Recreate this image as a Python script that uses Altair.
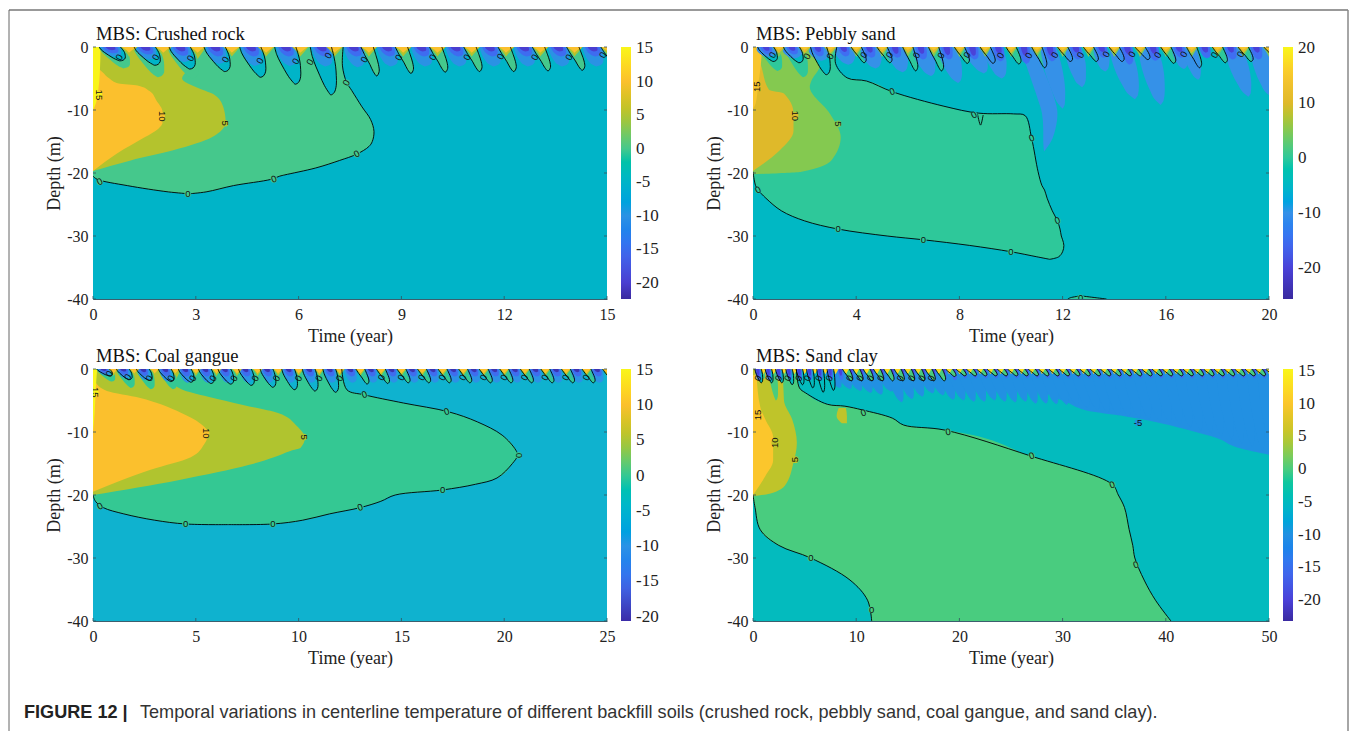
import altair as alt
import pandas as pd

alt.data_transformers.disable_max_rows()

SERIF = "Liberation Serif"
SANS = "Liberation Sans"

# ---- shape profiles of the seasonal tongues (fractions of depth, offsets in years)
COLD_F = [0, .2, .4, .6, .8, .95, 1]
COLD_L = [-.32, -.26, -.16, -.04, .09, .22, .28]
COLD_R = [.30, .37, .42, .44, .44, .38, .28]
BLUE_F = [0, .35, .7, .9, 1]
BLUE_L = [-.3, -.24, -.12, 0, .12]
BLUE_R = [.3, .34, .34, .28, .12]
WEDGE_F = [0, .3, .6, .85, 1]
WEDGE_L = [-.18, -.06, .08, .18, .28]
WEDGE_R = [.18, .26, .33, .35, .28]
CAP_F = [0, .5, 1]
CAP_L = [-.24, -.1, 0]
CAP_R = [.24, .12, 0]
PLUME_F = [0, .25, .5, .75, .92, 1]
PLUME_H = [.28, .32, .3, .22, .12, 0]

# ---- Panel 1: crushed rock  (depth, left, right)
P1_GREEN = [(0, 0, 7.3), (-3, 0, 7.28), (-5.6, 0, 7.4), (-6.9, 0, 7.55), (-9.5, 0, 7.85), (-11.5, 0, 8.1),
            (-13.4, 0, 8.2), (-15, 0, 8.15), (-15.8, 0, 8.05), (-17, 0, 7.7), (-18, 0, 7.2), (-19.2, 0, 6.5),
            (-20.3, 0, 5.6), (-20.5, 0, 5.45), (-21, .12, 5.2), (-22, 1.0, 4.1), (-23, 2.2, 3.3), (-23.3, 2.8, 2.8)]
P1_OLIVE = [(0, 0, 3.3), (-3, 0, 2.9), (-5, 0, 2.6), (-6.6, 0, 3.1), (-7.6, 0, 3.55), (-9.5, 0, 3.8),
            (-11.9, 0, 3.87), (-14.3, 0, 3.48), (-16.4, 0, 2.34), (-18, 0, 1.1), (-19.7, 0, 0)]
P1_ORANGE = [(-3, 0, .08), (-4, 0, .28), (-5, 0, .48), (-5.8, 0, .75), (-6.1, 0, 1.3), (-7, 0, 1.65),
             (-8.5, 0, 1.85), (-10.3, 0, 2.03), (-12, 0, 2.03), (-13, 0, 1.9), (-14.3, 0, 1.52), (-16.9, 0, .7),
             (-19.7, 0, 0)]
P1_YELLOW = [(0, 0, .22), (-4, 0, .2), (-7, 0, .15), (-9, 0, .08), (-10, 0, 0)]
P1_HALO_C = [.55, 1.55, 2.55]
P1_HALO_D = [3.4, 4.8, 5.0]
P1_LOOP_C = [.5, 1.52, 2.54, 3.56, 4.6, 5.62, 6.66]
P1_LOOP_D = [2.2, 2.9, 3.5, 3.9, 4.8, 5.9, 7.6]
P1_WEDGE_C = [8, 9, 10, 11, 12, 13, 14, 15]
P1_WEDGE_D = [4.6, 4.2, 4, 3.9, 3.9, 3.8, 3.7, 3.4]
P1_BLUE_C = [.5, 1.52, 2.54, 3.56, 4.6, 5.62, 6.66, 7.6, 8.57, 9.57, 10.57, 11.57, 12.57, 13.57, 14.57]
P1_B10 = [1.5, 2, 2.4, 2.7, 3, 3, 3.1, 3.2, 3.1, 3.1, 3.1, 3.1, 3.1, 3.1, 3.1]
P1_B15 = [1, 1.2, 1.4, 1.5, 1.5, 1.5, 1.5, 1.5, 1.5, 1.5, 1.5, 1.5, 1.5, 1.5, 1.5]
P1_B20 = [.5, .6, .7, .7, .7, .7, .7, .7, .7, .7, .7, .7, .7, .7, .7]
P1_CAP_C = [1.05, 2.05, 3.05, 4.05, 5.05, 6.05, 7.05, 8.05, 9.05, 10.05, 11.05, 12.05, 13.05, 14.05, 15.05]
P1_LABELS = [(.17, -7.6, "15", 90, 15), (2, -11, "10", 90, 10), (3.85, -12.1, "5", 90, 5),
             (.2, -21.4, "0", 330, 0), (2.77, -23.3, "0", 0, 0), (5.28, -21, "0", 340, 0),
             (7.7, -17, "0", 330, 0), (7.4, -5.7, "0", 300, 0)]
P1_TLAB = [(.77, -1.65), (1.84, -1.65), (2.85, -1.8), (3.87, -2), (4.88, -2.2), (5.92, -2.3), (6.34, -2.4),
           (6.87, -1.4), (7.92, -2), (8.93, -1.7), (9.92, -1.65), (10.92, -1.65), (11.9, -1.55), (12.9, -1.65),
           (13.9, -1.65), (14.88, -1.3)]
P1_DOM = [-22.4, -20, -15, -10, -5, 0, 5, 10, 15.15]
P1_RNG = ["#3A2A9F", "#4A3ED0", "#3E6CF0", "#2A92E4", "#00B4C8", "#45C88C", "#B4C32D", "#FBC02D", "#F9F61A"]

# ---- Panel 2: pebbly sand
P2_GREEN = [(0, 0, 3.25), (-2.6, 0, 3.2), (-4.9, 0, 3.65), (-5.4, 0, 4.4), (-7.1, 0, 5.4), (-9.4, 0, 7.4),
            (-10.5, 0, 8.75), (-10.62, 0, 10.1), (-10.9, 0, 10.55), (-14.5, 0, 10.8), (-19.8, 0, 11.05),
            (-22, .1, 11.2), (-22.7, .2, 11.3), (-24, .5, 11.4), (-26, 1.1, 11.6), (-27.6, 2.0, 11.8),
            (-28.9, 3.3, 11.9), (-30, 5.2, 11.95), (-30.6, 6.6, 12), (-31.5, 8.4, 12.05), (-32.5, 10, 12),
            (-33.3, 11, 11.85), (-33.7, 11.5, 11.5)]
P2_SMALL = [(-39.5, 12.7, 12.7), (-39.8, 12.3, 13.3), (-40, 12.2, 13.7)]
P2_OLIVE = [(0, 0, 2.7), (-3, 0, 2.6), (-5.5, 0, 2.25), (-6.3, 0, 2.2), (-10.5, 0, 2.97), (-14.3, 0, 3.4),
            (-17.9, 0, 3.06), (-19.8, 0, 1.88), (-20.2, 0, 0)]
P2_ORANGE = [(-1, 0, .1), (-2.6, 0, .28), (-6.8, 0, .62), (-7.4, 0, 1.2), (-10.5, 0, 1.57), (-13.3, 0, 1.57),
             (-16.4, 0, 1.04), (-19.7, 0, 0)]
P2_YELLOW = [(0, 0, .35), (-3, 0, .3), (-6, 0, .2), (-9, 0, .1), (-9.8, 0, 0)]
P2_HALO_C = [.6, 1.6]
P2_HALO_D = [3.8, 4.8]
P2_LOOP_C = [.5, 1.5, 2.55]
P2_LOOP_D = [2.3, 2.5, 4.4]
P2_WEDGE_C = [4, 5, 6, 7, 8, 9, 10, 11, 12, 13, 14, 15, 16, 17, 18, 19, 20]
P2_WEDGE_D = [2.5, 2.5, 3.8, 3.8, 2.6, 2.6, 2.7, 3.3, 2.3, 2.3, 2.3, 2.0, 2.6, 3.3, 2.5, 2.3, 2]
P2_PLUME_C = [.5, 1.5, 2.5, 3.5, 4.5, 5.5, 6.5, 7.5, 8.5, 9.3, 11.44, 12.4, 13.45, 14.2, 15.3, 16.5, 16.9, 18.6, 19.6]
P2_PLUME_T = [.6, 1.6, 2.65, 3.7, 4.75, 5.8, 6.9, 7.95, 8.95, 9.64, 12, 12.75, 13.65, 14.8, 15.8, 16.7, 17.25, 19.2, 20.05]
P2_PLUME_D = [1.6, 1.8, 2.2, 2.8, 3.4, 4, 4.6, 5.7, 4.2, 5, 9.8, 6.4, 3.9, 8.3, 9.2, 3.5, 5.2, 7.9, 7.8]
P2_PLUME_W = [1.2, 1.2, 1.2, 1.2, 1.2, 1.2, 1.2, 1.2, 1.2, 1.2, 1.1, 1.1, .9, 1.4, 1.3, .9, .9, 1.2, 1.2]
P2_BIG = [(0, 10.3, 10.9), (-3, 10.6, 11.2), (-6, 10.85, 11.5), (-8.4, 11.05, 11.7), (-10.5, 11.2, 11.8),
          (-13, 11.25, 11.72), (-15, 11.25, 11.55), (-16.6, 11.28, 11.28)]
P2_BLUE_C = [.5, 1.5, 2.5, 3.5, 4.5, 5.5, 6.5, 7.5, 8.5, 9.5, 10.5, 11.5, 12.5, 13.5, 14.5, 15.5, 16.5, 17.5, 18.5, 19.5]
P2_B15 = [1.2, 1.2, 1.5, 1.5, 1.7, 1.7, 2, 2, 2, 2.3, 2.7, 2.3, 2, 1.7, 2.8, 2.2, 1.7, 1.8, 2, 2]
P2_B20 = [.6, .6, .8, .8, .9, 1.1, 1.1, 1.3, 1.4, 1.1, 1.4, 1.4, .9, .8, 1.2, 1.1, .8, .9, .9, .9]
P2_CAP_C = [1, 2, 3, 4, 5, 6, 7, 8, 9, 10, 11, 12, 13, 14, 15, 16, 17, 18, 19, 20]
P2_LABELS = [(.15, -6.3, "15", 270, 15), (1.63, -10.9, "10", 90, 10), (3.3, -12.2, "5", 90, 5),
             (5.4, -7.1, "0", 340, 0), (8.57, -10.8, "0", 330, 0), (10.8, -14.5, "0", 340, 0),
             (11.8, -27.6, "0", 340, 0), (10, -32.5, "0", 0, 0), (6.6, -30.6, "0", 0, 0), (3.3, -28.9, "0", 0, 0),
             (.2, -22.7, "0", 330, 0), (12.7, -39.8, "0", 0, 0)]
P2_TLAB = [(.76, -1.3), (2.1, -1.5), (3.0, -1.5), (4.3, -1.3), (5.3, -1.3), (6.35, -1.35), (7.3, -1.4), (8.3, -1.3),
           (9.6, -1.4), (10.7, -1.4), (11.7, -1.3), (12.7, -1.3), (13.7, -1.2), (14.7, -1.2), (15.7, -1.3),
           (16.7, -1.2), (17.9, -1.3), (18.9, -1.2)]
P2_DOM = [-25.7, -20, -15, -10, -5, 0, 5, 10, 15, 20.2]
P2_RNG = ["#3A2A9F", "#4A42D8", "#3F6EF2", "#3591E8", "#00B8C4", "#2EC89A", "#84C950", "#DFB92A", "#F8C52E", "#F9F61A"]

# ---- Panel 3: coal gangue
P3_GREEN = [(0, 0, 12.1), (-3.3, 0, 12.35), (-4.1, 0, 13.2), (-5.4, 0, 15.1), (-6.8, 0, 17.3), (-8.4, 0, 18.7),
            (-10.5, 0, 19.9), (-12.9, 0, 20.57), (-13.7, 0, 20.65), (-15, 0, 20.4), (-17.3, 0, 19.65),
            (-18.3, 0, 18.6), (-19.2, 0, 17), (-20, 0, 14.7), (-21, .12, 14), (-22, .5, 13), (-23, 1.5, 11.5),
            (-24, 3, 10.2), (-24.6, 4.5, 8.75), (-24.7, 6.6, 6.6)]
P3_OLIVE = [(0, 0, 4.3), (-2.5, 0, 4), (-3.2, 0, 4.3), (-4.4, 0, 5.6), (-5.7, 0, 7.3), (-7, 0, 9), (-9, 0, 9.9),
            (-11, 0, 10.3), (-12.5, 0, 10.1), (-13, 0, 9.6), (-14, 0, 8.8), (-15.2, 0, 7.6), (-17.6, 0, 4.2),
            (-20, 0, 0)]
P3_ORANGE = [(-2, 0, .1), (-3.5, 0, .68), (-4.6, 0, 2.3), (-5.6, 0, 3.3), (-7, 0, 4.3), (-8.6, 0, 5.2),
             (-10.2, 0, 5.6), (-12, 0, 5.4), (-14, 0, 4.76), (-16, 0, 2.8), (-19.5, 0, 0)]
P3_YELLOW = [(0, 0, .2), (-4, 0, .12), (-7, 0, .08), (-10, 0, 0)]
P3_HALO_C = [.55, 1.5, 2.47, 3.55, 4.5, 5.5]
P3_HALO_D = [2, 3, 3.2, 3.2, 3.2, 3]
P3_LOOP_C = [.5, 1.46, 2.43, 3.5, 4.47, 5.45, 6.4, 7.4, 8.45, 9.5, 10.5, 11.5]
P3_LOOP_D = [1.1, 1.7, 1.8, 2, 2.1, 2.3, 2.4, 2.6, 2.9, 3.3, 3.5, 3.7]
P3_WEDGE_C = [13, 14, 15, 16, 17, 18, 19, 20, 21, 22, 23, 24, 25]
P3_WEDGE_D = [2.4, 2.3, 2.2, 2.2, 2.2, 2.2, 2.2, 2.2, 2.2, 2.2, 2.2, 2.2, 2.2]
P3_BLUE_C = [.5, 1.46, 2.43, 3.5, 4.47, 5.45, 6.4, 7.4, 8.45, 9.5, 10.5, 11.5, 12.5, 13.5, 14.5, 15.5, 16.5, 17.5,
             18.5, 19.5, 20.5, 21.5, 22.5, 23.5, 24.5]
P3_B10 = [1, 1.5, 1.8, 2, 2.2, 2.2, 2.2, 2.2, 2.2, 2.2, 2.2, 2.2, 2.2, 2.2, 2.2, 2.2, 2.2, 2.2, 2.2, 2.2, 2.2, 2.2, 2.2, 2.2, 2.2]
P3_B15 = [.7, 1, 1.1, 1.2, 1.2, 1.2, 1.2, 1.2, 1.2, 1.2, 1.2, 1.2, 1.2, 1.2, 1.2, 1.2, 1.2, 1.2, 1.2, 1.2, 1.2, 1.2, 1.2, 1.2, 1.2]
P3_B20 = [.3, .4, .5, .5, .5, .5, .5, .5, .5, .5, .5, .5, .5, .5, .5, .5, .5, .5, .5, .5, .5, .5, .5, .5, .5]
P3_CAP_C = [1, 2, 3, 4, 5, 6, 7, 8, 9, 10, 11, 12, 13, 14, 15, 16, 17, 18, 19, 20, 21, 22, 23, 24, 25]
P3_LABELS = [(.1, -3.7, "15", 90, 15), (5.5, -10.2, "10", 90, 10), (10.25, -10.8, "5", 90, 5),
             (13.2, -4.1, "0", 340, 0), (17.2, -6.8, "0", 340, 0), (20.7, -13.7, "0", 90, 0),
             (17, -19.2, "0", 0, 0), (13, -22, "0", 340, 0), (8.75, -24.6, "0", 0, 0), (4.5, -24.6, "0", 0, 0),
             (.34, -21.8, "0", 330, 0)]
P3_TLAB = [(.8, -.8), (1.7, -1.3), (2.75, -1.5), (3.8, -1.5), (4.86, -1.5), (5.85, -1.5), (6.87, -1.5), (7.9, -1.5),
           (8.93, -1.5), (10, -1.5), (11, -1.5), (12, -1.5), (14.04, -1.4), (15, -1.4), (16, -1.4), (17, -1.4),
           (18, -1.4), (19, -1.4), (20, -1.4), (21, -1.4), (22, -1.4), (23, -1.4), (24, -1.4)]
P3_DOM = [-20.6, -15, -10, -5, 0, 5, 10, 15.1]
P3_RNG = ["#3B2CA8", "#3F6CEE", "#2B92E6", "#0FB2CF", "#34C893", "#B0C42F", "#FBC02D", "#F9F61A"]

# ---- Panel 4: sand clay
P4_GREEN = [(0, 0, 4.2), (-3, 0, 4.5), (-3.8, 0, 5.1), (-5.6, 0, 7.2), (-5.9, 0, 8.9), (-6.5, 0, 10.6),
            (-7.8, 0, 13.5), (-8.9, 0, 14.6), (-9.7, 0, 18.6), (-13.8, 0, 26.9), (-18.3, 0, 34.8), (-20, 0, 35.4),
            (-22, .2, 36), (-25.5, .7, 36.45), (-28, 2.5, 36.8), (-30, 5.6, 37), (-33.5, 9.4, 37.9),
            (-36.7, 11.1, 39), (-40, 11.5, 40.5)]
P4_OLIVE = [(0, 0, 2.9), (-5, 0, 3), (-8, 0, 3.8), (-11.7, 0, 4.25), (-15, 0, 3.9), (-18.5, 0, 3.1), (-19.8, 0, 1.6),
            (-20.2, 0, 0)]
P4_ORANGE = [(-1, 0, .35), (-6, 0, .7), (-8, 0, 1.2), (-10.8, 0, 1.95), (-14.5, 0, 1.95), (-17, 0, 1.2), (-20, 0, 0)]
P4_BLOB = [(-6.2, 8.3, 9), (-7.5, 8.1, 9.1), (-8.6, 8.6, 9.1)]
P4_BASE = [(0, 9, 50), (-1.5, 12, 50), (-2.5, 25, 50), (-5, 30, 50), (-6.8, 33, 50), (-7.5, 36, 50), (-8.4, 39, 50),
           (-9.6, 42, 50), (-11, 45, 50), (-12.5, 47, 50), (-13.6, 50, 50)]
P4_HALO_C = [.6, 1.85]
P4_HALO_D = [1.6, 5]
P4_LOOP_C = [.5, 1.5, 2.5, 3.5, 4.5, 5.5, 6.5, 7.5]
P4_LOOP_D = [2.2, 2.2, 2.2, 2.5, 2.5, 3, 3.7, 3.4]
P4_WEDGE_C = list(range(9, 51))
P4_WEDGE_D = [1.9] * 10 + [1.2, 1.1, 1.1, 1.1, 1.1, 1.1, 1.1, 1.1, 1.1, 1.1, 1.1, 1.1, 1.1, 1.1, 1.1, 1.1, 1.1, 1.1, 1.1,
                           1.1, 1.1, 1.1, 1.1, 1.1, 1.1, 1.1, 1.1, 1.1, 1.1, 1.1, 1.1, 1.1]
P4_PLUME_C = [n + .4 for n in range(7, 50)]
P4_PLUME_D = [3, 3.2, 3.5, 3.8, 4.1, 3.6, 5.3, 4.8, 4.4, 3.9, 4.2, 4.9, 5.0, 5.2, 5.2, 5.0, 5.2, 5.3, 5.2, 5.5, 5.5,
              5.6, 5.7, 5.8, 6.2, 6.6, 7, 7.4, 7.6, 7.8, 8, 8.3, 8.6, 8.9, 9.3, 9.8, 10.2, 10.7, 11.2, 11.9, 12.4, 13, 13.5]
P4_BLUE_C = [n + .45 for n in range(50)]
P4_B15 = [1.8] * 20 + [1.5] * 30
P4_B20 = [1.1] * 20 + [.7] * 30
P4_CAP_C = [n + 1 for n in range(50)]
P4_LABELS = [(.5, -7.3, "15", 270, 10), (2.1, -11.7, "10", 270, 5), (4.1, -14.4, "5", 270, 5),
             (10.7, -7, "0", 340, 0), (18.9, -10, "0", 350, 0), (27, -13.8, "0", 340, 0), (34.8, -18.4, "0", 340, 0),
             (37.1, -31.1, "0", 340, 0), (5.6, -30, "0", 0, 0), (11.5, -38.2, "0", 0, 0), (37.3, -8.5, "-5", 0, -10)]
P4_TLAB = [(.5, -1.5), (1.55, -1.5), (2.5, -1.5), (3.4, -1.5), (4.45, -1.5), (5.3, -1.5), (6.4, -1.5), (7.4, -1.5),
           (9.4, -1.5), (10.4, -1.5), (11.4, -1.5), (12.4, -1.5), (14.3, -1.5), (15.4, -1.5), (16.4, -1.5), (17.3, -1.5)]
P4_DOM = [-23.2, -20, -15, -10, -5, 0, 5, 10, 15.3]
P4_RNG = ["#3A2AA0", "#4A40D8", "#3E6FF0", "#2290E2", "#03BBBE", "#49CC7F", "#BFC42A", "#FBC62C", "#F9F61A"]

DEPTH_TICKS = [0, -10, -20, -30, -40]
CAPTION_BOLD = "FIGURE 12 |"
CAPTION_TEXT = ("Temporal variations in centerline temperature of different backfill soils "
                "(crushed rock, pebbly sand, coal gangue, and sand clay).")


class Builder:
    def __init__(self):
        self.areas, self.lines, self.n = [], [], 0

    def _id(self):
        self.n += 1
        return self.n

    def blob(self, pts, t, outline=False):
        i = self._id()
        for d, l, r in pts:
            self.areas.append(dict(id=i, t=t, y=d, x0=l, x1=r))
        if outline:
            a = [(r, d) for d, l, r in pts]
            b = [(l, d) for d, l, r in pts if l > 0]
            first = next((k for k, p in enumerate(pts) if p[1] > 0), None)
            if first is not None and first > 0:
                b = [(0, pts[first - 1][0])] + b
            self.line(a)
            if b:
                self.line(b)

    def line(self, pts):
        i = self._id()
        for k, (x, y) in enumerate(pts):
            self.lines.append(dict(id=i, k=k, x=x, y=y))

    def shape(self, c, depth, t, F, L, R, hw=1.0, outline=False):
        i = self._id()
        for f, l, r in zip(F, L, R):
            self.areas.append(dict(id=i, t=t, y=-f * depth, x0=c + hw * l, x1=c + hw * r))
        if outline:
            pts = [(c + hw * l, -f * depth) for f, l in zip(F, L)]
            pts += [(c + hw * r, -f * depth) for f, r in list(zip(F, R))[-2::-1]]
            self.line(pts)

    def cold(self, cs, ds, t, hw=1.0, outline=False):
        for c, d in zip(cs, ds):
            self.shape(c, d, t, COLD_F, COLD_L, COLD_R, hw, outline)

    def blue(self, cs, ds, t, hw=1.0):
        for c, d in zip(cs, ds):
            self.shape(c, d, t, BLUE_F, BLUE_L, BLUE_R, hw)

    def wedge(self, cs, ds, t, hw=1.0):
        for c, d in zip(cs, ds):
            self.shape(c, d, t, WEDGE_F, WEDGE_L, WEDGE_R, hw, True)

    def cap(self, cs, d, t, hw=1.0):
        for c in cs:
            self.shape(c, d, t, CAP_F, CAP_L, CAP_R, hw)

    def plume(self, cs, tips, ds, ws, t):
        for c, tip, d, w in zip(cs, tips, ds, ws):
            i = self._id()
            for f, h in zip(PLUME_F, PLUME_H):
                m = c + (tip - c) * f
                self.areas.append(dict(id=i, t=t, y=-f * d, x0=m - w * h, x1=m + w * h))


one = pd.DataFrame({"a": [0]})
# frame and caption are placed relative to the first panel's plot area
FX0, FX1, FY0, FY1 = -84, 1255, -37, 684


def frame_layers():
    rule = lambda color, w, op=1: alt.Chart(one).mark_rule(color=color, strokeWidth=w, opacity=op)
    return [
        rule("#fff", 1, 0).encode(x=alt.value(FX0), y=alt.value(-39), y2=alt.value(-38)),
        rule("#777", 1.5).encode(x=alt.value(FX0), x2=alt.value(FX1), y=alt.value(FY0)),
        rule("#666", 1).encode(x=alt.value(FX0), y=alt.value(FY0), y2=alt.value(FY1)),
        rule("#888", 1.5).encode(x=alt.value(FX1), y=alt.value(FY0), y2=alt.value(FY1)),
        alt.Chart(one).mark_text(font=SANS, fontSize=18.1, fontWeight="bold", color="#222", align="left",
                                 baseline="middle").encode(x=alt.value(-69), y=alt.value(666), text=alt.value(CAPTION_BOLD)),
        alt.Chart(one).mark_text(font=SANS, fontSize=18.1, color="#333", align="left",
                                 baseline="middle").encode(x=alt.value(47), y=alt.value(666), text=alt.value(CAPTION_TEXT)),
    ]


def panel(title, b, xmax, xticks, width, dom, rng, legend_values, labels, tlabels, extra=()):
    height = 252
    xs = alt.Scale(domain=[0, xmax], nice=False, zero=False)
    ys = alt.Scale(domain=[-40, 0], nice=False, zero=False)
    color = alt.Color("t:Q", scale=alt.Scale(domain=dom, range=rng), legend=alt.Legend(
        orient="none", legendX=width + 14, legendY=0, title=None, direction="vertical",
        gradientLength=height, gradientThickness=10, values=legend_values, labelFont=SERIF,
        labelFontSize=17, labelColor="#222", labelOffset=5, labelExpr="'' + datum.value", gradientStrokeWidth=0))
    axis_common = dict(labelFont=SERIF, labelFontSize=16, labelColor="#222", titleFont=SERIF, titleFontSize=18,
                       titleFontWeight="normal", titleColor="#222", domainColor="#3c5f6e", domainWidth=1,
                       ticks=False, grid=False, labelExpr="'' + datum.value", labelOverlap=False, labelFlush=False)
    xaxis = alt.Axis(title="Time (year)", values=xticks, labelPadding=7, titlePadding=5, **axis_common)
    yaxis = alt.Axis(title="Depth (m)", values=DEPTH_TICKS, labelPadding=5, titlePadding=3, **axis_common)
    X = lambda f: alt.X(f, scale=xs, axis=xaxis)
    Y = lambda f: alt.Y(f, scale=ys, axis=yaxis)

    areas = alt.Chart(pd.DataFrame(b.areas)).mark_area(orient="horizontal", interpolate="monotone", clip=True).encode(
        x=X("x0:Q"), x2="x1:Q", y=Y("y:Q"), color=color, detail="id:N")
    lines = alt.Chart(pd.DataFrame(b.lines)).mark_line(color="#000", strokeWidth=.9, interpolate="catmull-rom",
                                                       clip=True).encode(
        x=X("x:Q"), y=Y("y:Q"), detail="id:N", order="k:Q")
    lab = pd.DataFrame(labels, columns=["x", "y", "s", "a", "t"])
    dots = alt.Chart(lab).mark_point(filled=True, size=45, opacity=1, clip=True).encode(
        x=X("x:Q"), y=Y("y:Q"), color=color)
    tl = pd.DataFrame(tlabels, columns=["x", "y"])
    tl["s"], tl["a"] = "0", 300
    txt = pd.concat([lab[["x", "y", "s", "a"]], tl], ignore_index=True)
    texts = alt.Chart(txt).mark_text(font=SANS, fontSize=9.5, color="#111", clip=True).encode(
        x=X("x:Q"), y=Y("y:Q"), text="s:N", angle=alt.Angle("a:Q", scale=None))
    xt = pd.DataFrame({"v": xticks})
    yt = pd.DataFrame({"v": DEPTH_TICKS})
    tick = dict(color="#33505c", strokeWidth=.8)
    t1 = alt.Chart(xt).mark_rule(**tick).encode(x=X("v:Q"), y=alt.value(height), y2=alt.value(height - 3))
    t2 = alt.Chart(yt).mark_rule(**tick).encode(y=Y("v:Q"), x=alt.value(0), x2=alt.value(3))
    t3 = alt.Chart(yt).mark_rule(**tick).encode(y=Y("v:Q"), x=alt.value(width), x2=alt.value(width - 3))
    head = alt.Chart(one).mark_text(font=SERIF, fontSize=18.6, color="#111", align="left", baseline="middle").encode(
        x=alt.value(3), y=alt.value(-13), text=alt.value(title))
    return alt.layer(areas, lines, dots, texts, t1, t2, t3, head, *extra).properties(width=width, height=height)


# ---------- panel 1
b = Builder()
b.blob([(0, 0, 15), (-40, 0, 15)], -5)
b.blob(P1_GREEN, 0, True)
b.blob(P1_OLIVE, 5)
b.blob(P1_ORANGE, 10)
b.blob(P1_YELLOW, 15)
b.cold(P1_HALO_C, P1_HALO_D, 0, 1.2)
b.cold(P1_LOOP_C, P1_LOOP_D, -5, 1.0, True)
b.wedge(P1_WEDGE_C, P1_WEDGE_D, 0)
b.blue(P1_BLUE_C, P1_B10, -10, .95)
b.blue(P1_BLUE_C, P1_B15, -15, .7)
b.blue(P1_BLUE_C, P1_B20, -20, .45)
b.cap(P1_CAP_C, 1.5, 5)
b.cap(P1_CAP_C, .9, 10, .85)
p1 = panel("MBS: Crushed rock", b, 15, [0, 3, 6, 9, 12, 15], 514, P1_DOM, P1_RNG, [15, 10, 5, 0, -5, -10, -15, -20],
           P1_LABELS, P1_TLAB, frame_layers())

# ---------- panel 2
b = Builder()
b.blob([(0, 0, 20), (-40, 0, 20)], -5)
b.blob(P2_GREEN, 0, True)
b.blob(P2_SMALL, 0, True)
b.line([(8.7, -10.6), (8.82, -12.4), (8.92, -10.8)])
b.blob(P2_OLIVE, 5)
b.blob(P2_ORANGE, 10)
b.blob(P2_YELLOW, 15)
b.cold(P2_HALO_C, P2_HALO_D, 0, 1.2)
b.cold(P2_LOOP_C, P2_LOOP_D, -5, 1.0, True)
b.wedge(P2_WEDGE_C, P2_WEDGE_D, 0, 1.1)
b.plume(P2_PLUME_C, P2_PLUME_T, P2_PLUME_D, P2_PLUME_W, -10)
b.blob(P2_BIG, -10)
b.blue(P2_BLUE_C, P2_B15, -15, .7)
b.blue(P2_BLUE_C, P2_B20, -20, .4)
b.cap(P2_CAP_C, 1.6, 5)
b.cap(P2_CAP_C, 1.0, 10, .9)
b.cap(P2_CAP_C, .45, 15, .7)
p2 = panel("MBS: Pebbly sand", b, 20, [0, 4, 8, 12, 16, 20], 516, P2_DOM, P2_RNG, [20, 10, 0, -10, -20],
           P2_LABELS, P2_TLAB)

# ---------- panel 3
b = Builder()
b.blob([(0, 0, 25), (-40, 0, 25)], -5)
b.blob(P3_GREEN, 0, True)
b.blob(P3_OLIVE, 5)
b.blob(P3_ORANGE, 10)
b.blob(P3_YELLOW, 15)
b.cold(P3_HALO_C, P3_HALO_D, 0, 1.2)
b.cold(P3_LOOP_C, P3_LOOP_D, -5, 1.0, True)
b.wedge(P3_WEDGE_C, P3_WEDGE_D, 0, 1.2)
b.blue(P3_BLUE_C, P3_B10, -10, .95)
b.blue(P3_BLUE_C, P3_B15, -15, .7)
b.blue(P3_BLUE_C, P3_B20, -20, .45)
b.cap(P3_CAP_C, 1.1, 5)
b.cap(P3_CAP_C, .7, 10, .85)
p3 = panel("MBS: Coal gangue", b, 25, [0, 5, 10, 15, 20, 25], 514, P3_DOM, P3_RNG, [15, 10, 5, 0, -5, -10, -15, -20],
           P3_LABELS, P3_TLAB)

# ---------- panel 4
b = Builder()
b.blob([(0, 0, 50), (-40, 0, 50)], -5)
b.blob(P4_GREEN, 0, True)
b.blob(P4_OLIVE, 5)
b.blob(P4_ORANGE, 10)
b.blob(P4_BLOB, 5)
b.cold(P4_HALO_C, P4_HALO_D, 0, 1.3)
b.blob(P4_BASE, -10)
b.plume(P4_PLUME_C, [c + 1.0 for c in P4_PLUME_C], P4_PLUME_D, [2] * len(P4_PLUME_C), -10)
b.cold(P4_LOOP_C, P4_LOOP_D, -5, 1.0, True)
b.blue(P4_BLUE_C, P4_B15, -15, .9)
b.blue(P4_BLUE_C, P4_B20, -20, .5)
b.wedge(P4_WEDGE_C, P4_WEDGE_D, 0, 1.9)
b.cap(P4_CAP_C, .85, 12, 1.2)
p4 = panel("MBS: Sand clay", b, 50, [0, 10, 20, 30, 40, 50], 516, P4_DOM, P4_RNG, [15, 10, 5, 0, -5, -10, -15, -20],
           P4_LABELS, P4_TLAB)

chart = alt.concat(p1, p2, p3, p4, columns=2, spacing={"row": 70, "column": 146}, bounds="flush").resolve_scale(
    color="independent").properties(padding=0).configure_view(stroke=None)
chart.save("out.html", embed_options={"renderer": "svg", "actions": False})
